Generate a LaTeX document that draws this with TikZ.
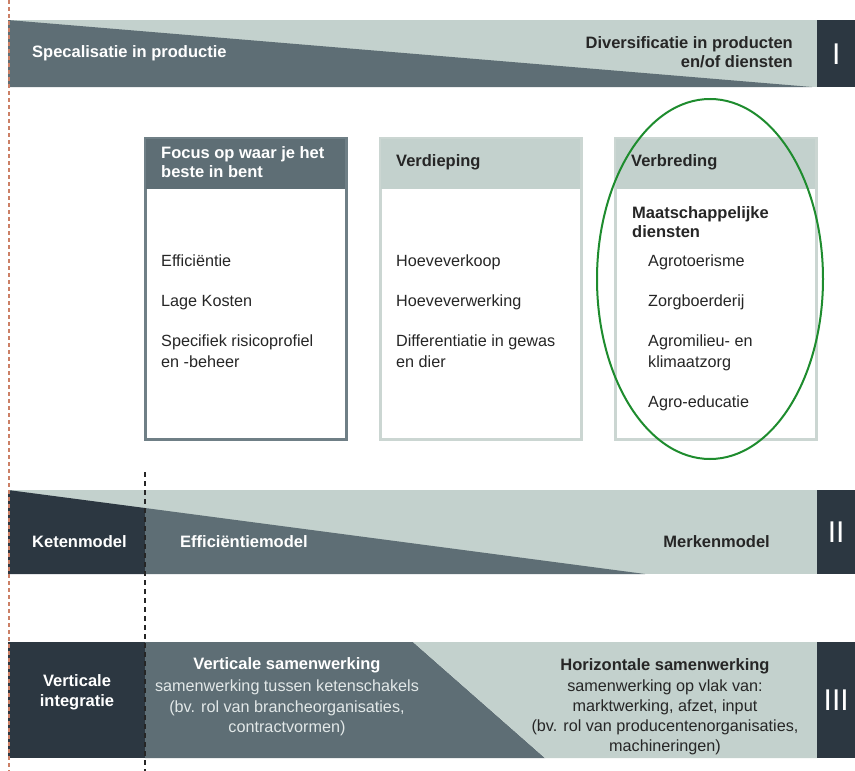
\documentclass[tikz,border=0pt]{standalone}
\usepackage{fontspec}
\setmainfont{Liberation Sans}
\definecolor{lt}{HTML}{C3D1CD}
\definecolor{md}{HTML}{5E6E75}
\definecolor{dk}{HTML}{2C3741}
\definecolor{tx}{HTML}{262626}
\definecolor{lighttx}{HTML}{E2E8E8}
\definecolor{grn}{HTML}{1E8C2E}
\definecolor{rd}{HTML}{CC8066}
\definecolor{bordA}{HTML}{6F7F86}
\definecolor{bordB}{HTML}{CBD6D2}
\begin{document}
\begin{tikzpicture}[x=1pt,y=-1pt,
  bt/.style={font=\fontsize{16.5}{20}\selectfont\bfseries, inner sep=0pt},
  nt/.style={font=\fontsize{16.2}{20}\selectfont, inner sep=0pt},
  rn/.style={font=\fontsize{30}{30}\selectfont, text=white, inner sep=0pt},
  boxA/.style={draw=bordA, line width=2pt, fill=white, minimum width=200pt, minimum height=300pt, anchor=north west, inner sep=0pt},
  boxB/.style={draw=bordB, line width=2pt, fill=white, minimum width=200pt, minimum height=300pt, anchor=north west, inner sep=0pt},
  headA/.style={fill=md, minimum width=200pt, minimum height=51pt, anchor=north west, inner sep=0pt},
  headB/.style={fill=lt, minimum width=200pt, minimum height=51pt, anchor=north west, inner sep=0pt},
  blk/.style={fill=dk, minimum width=38pt, anchor=north west, inner sep=0pt}
]
\useasboundingbox (0,0) rectangle (855,771);
\fill[white] (0,0) rectangle (855,771);

% ---------- Band I ----------
\fill[lt] (8,20) rectangle (817,87);
\fill[md] (8,20) -- (812,87) -- (8,87) -- cycle;
\node[blk, minimum height=67pt] (blk1) at (817,20) {};
\node[bt, text=white, anchor=base west] (spec) at (32,57) {Specalisatie in productie};
\node[bt, text=tx, anchor=base east] (div1) at (793,48) {Diversificatie in producten};
\node[bt, text=tx, anchor=base east] (div2) at (793,67.5) {en/of diensten};
\node[rn] (r1) at (blk1.center) {I};

% ---------- Boxes ----------
\node[boxA] (box1) at (145,138) {};
\node[headA] (head1) at (145,138) {};
\draw[bordA, line width=2pt] (box1.north west) rectangle (box1.south east);
\node[boxB] (box2) at (380,138) {};
\node[headB] (head2) at (380,138) {};
\node[boxB] (box3) at (615,138) {};
\node[headB] (head3) at (615,138) {};
\draw[bordB, line width=2pt] (box2.north west) rectangle (box2.south east);
\draw[bordB, line width=2pt] (box3.north west) rectangle (box3.south east);

\node[bt, text=white, anchor=base west] (h1a) at (161,158) {Focus op waar je het};
\node[bt, text=white, anchor=base west] (h1b) at (161,177) {beste in bent};
\node[bt, text=tx, anchor=base west] (h2) at (396,166) {Verdieping};
\node[bt, text=tx, anchor=base west] (h3) at (631,166) {Verbreding};

\node[nt, text=tx, anchor=base west] (a1) at (161,266.7) {Efficiëntie};
\node[nt, text=tx, anchor=base west] (a2) at (161,306.7) {Lage Kosten};
\node[nt, text=tx, anchor=base west] (a3) at (161,346.7) {Specifiek risicoprofiel};
\node[nt, text=tx, anchor=base west] (a4) at (161,367.5) {en -beheer};

\node[nt, text=tx, anchor=base west] (b1) at (396,266.7) {Hoeveverkoop};
\node[nt, text=tx, anchor=base west] (b2) at (396,306.7) {Hoeveverwerking};
\node[nt, text=tx, anchor=base west] (b3) at (396,346.7) {Differentiatie in gewas};
\node[nt, text=tx, anchor=base west] (b4) at (396,367.5) {en dier};

\node[bt, text=tx, anchor=base west] (c0a) at (632,218) {Maatschappelijke};
\node[bt, text=tx, anchor=base west] (c0b) at (632,237) {diensten};
\node[nt, text=tx, anchor=base west] (c1) at (648,266.7) {Agrotoerisme};
\node[nt, text=tx, anchor=base west] (c2) at (648,306.7) {Zorgboerderij};
\node[nt, text=tx, anchor=base west] (c3) at (648,346.7) {Agromilieu- en};
\node[nt, text=tx, anchor=base west] (c4) at (648,367.5) {klimaatzorg};
\node[nt, text=tx, anchor=base west] (c5) at (648,407) {Agro-educatie};

\draw[grn, line width=2pt] (710,279) ellipse [x radius=113, y radius=180];

% ---------- Band II ----------
\fill[lt] (8,490) rectangle (817,574);
\fill[dk] (8,490) -- (145,508) -- (145,574) -- (8,574) -- cycle;
\fill[md] (145,508) -- (645,574) -- (145,574) -- cycle;
\node[blk, minimum height=84pt] (blk2) at (817,490) {};
\node[bt, text=white, anchor=base west] (ket) at (32,547.5) {Ketenmodel};
\node[bt, text=white, anchor=base west] (eff) at (180,547.5) {Efficiëntiemodel};
\node[bt, text=tx, anchor=base east] (merk) at (770,547.5) {Merkenmodel};
\node[rn] (r2) at (blk2.center) {II};

% ---------- Band III ----------
\fill[dk] (8,642) rectangle (145,758);
\fill[md] (145,642) -- (413,642) -- (545,758) -- (145,758) -- cycle;
\fill[lt] (413,642) -- (817,642) -- (817,758) -- (545,758) -- cycle;
\node[blk, minimum height=116pt] (blk3) at (817,642) {};
\node[bt, text=white, anchor=base] (vi1) at (77,686) {Verticale};
\node[bt, text=white, anchor=base] (vi2) at (77,706) {integratie};
\node[bt, text=white, anchor=base] (vs0) at (287,669.5) {Verticale samenwerking};
\node[nt, text=lighttx, anchor=base] (vs1) at (287,691.5) {samenwerking tussen ketenschakels};
\node[nt, text=lighttx, anchor=base] (vs2) at (287,712) {(bv. rol van brancheorganisaties,};
\node[nt, text=lighttx, anchor=base] (vs3) at (287,732) {contractvormen)};
\node[bt, text=tx, anchor=base] (hs0) at (665,670) {Horizontale samenwerking};
\node[nt, text=tx, anchor=base] (hs1) at (665,691) {samenwerking op vlak van:};
\node[nt, text=tx, anchor=base] (hs2) at (665,711) {marktwerking, afzet, input};
\node[nt, text=tx, anchor=base] (hs3) at (665,731) {(bv. rol van producentenorganisaties,};
\node[nt, text=tx, anchor=base] (hs4) at (665,751) {machineringen)};
\node[rn] (r3) at (blk3.center) {III};

% ---------- dashed guides ----------
\coordinate (rtop) at (9,0);
\coordinate (rbot) at (9,771);
\draw[rd, line width=1.2pt, dash pattern=on 4pt off 3pt] (rtop) -- (rbot);
\coordinate (ktop) at (145,472);
\coordinate (kbot) at (145,771);
\draw[tx, line width=1.2pt, dash pattern=on 5pt off 4pt] (ktop) -- (kbot);
\end{tikzpicture}
\end{document}
